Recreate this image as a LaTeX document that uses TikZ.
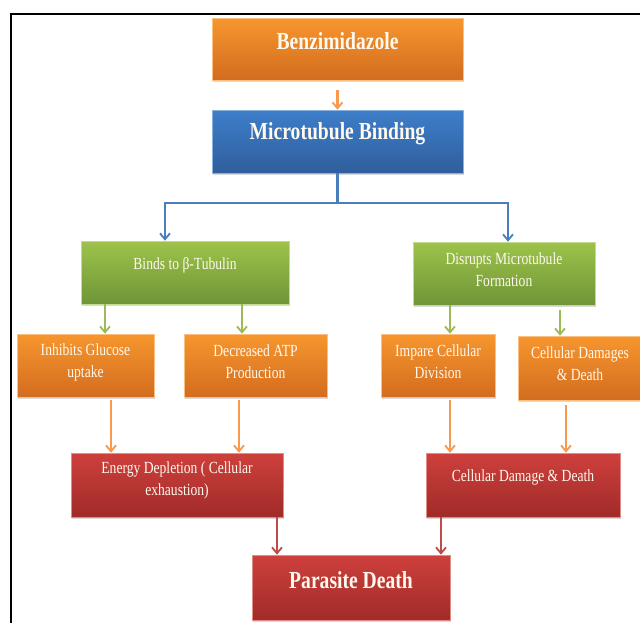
\documentclass[tikz,border=0pt]{standalone}
\usepackage{fontspec}
\setmainfont[FakeStretch=0.8]{Liberation Serif}
\usetikzlibrary{arrows.meta,shadows}
\definecolor{oTop}{HTML}{F7962E}
\definecolor{oBot}{HTML}{D36C1F}
\definecolor{bTop}{HTML}{3E7ECA}
\definecolor{bBot}{HTML}{2F5E9D}
\definecolor{gTop}{HTML}{9DC34B}
\definecolor{gBot}{HTML}{6F9538}
\definecolor{rTop}{HTML}{CE403C}
\definecolor{rBot}{HTML}{A02B29}
\definecolor{aO}{HTML}{F79A4E}
\definecolor{aB}{HTML}{4A7DBB}
\definecolor{aG}{HTML}{9BBB59}
\definecolor{aR}{HTML}{BE4B48}
\definecolor{txtc}{HTML}{FFF9EE}
\begin{document}
\begin{tikzpicture}[x=1pt,y=-1pt,
  box/.style={rectangle, inner sep=0pt, line width=0.6pt,
    drop shadow={shadow xshift=1pt,shadow yshift=-1.5pt,opacity=0.3}},
  obox/.style={box, top color=oTop, bottom color=oBot, draw=oTop!60!white},
  bbox/.style={box, top color=bTop, bottom color=bBot, draw=bTop!60!white},
  gbox/.style={box, top color=gTop, bottom color=gBot, draw=gTop!60!white},
  rbox/.style={box, top color=rTop, bottom color=rBot, draw=rTop!60!white},
  ttl/.style={text=txtc, font=\bfseries\fontsize{24.5}{28}\selectfont, align=center, inner sep=0pt},
  rtx/.style={text=txtc, font=\fontsize{17}{22}\selectfont, align=center, inner sep=0pt},
  arr/.style={line width=2.1pt, -{Straight Barb[length=6pt,width=10pt,line width=1.8pt]}}
]
\useasboundingbox (0,0) rectangle (640,622);
\clip (0,0) rectangle (640,622);
\fill[white] (0,0) rectangle (640,622);
\draw[line width=2pt] (11,640) -- (11,14) -- (660,14);

% boxes
\node[obox, minimum width=251pt, minimum height=62pt,
  label={[ttl,yshift=8pt]center:Benzimidazole}] (bz) at (337.5,49) {};
\node[bbox, minimum width=251pt, minimum height=63pt,
  label={[ttl,yshift=7.5pt]center:Microtubule Binding}] (mb) at (337.5,141.5) {};
\node[gbox, minimum width=208pt, minimum height=63pt,
  label={[rtx,yshift=7pt]center:Binds to β-Tubulin}] (bt) at (185,272.5) {};
\node[gbox, minimum width=182pt, minimum height=63pt,
  label={[rtx,yshift=4pt]center:Disrupts Microtubule\\Formation}] (dm) at (504,273.5) {};
\node[obox, minimum width=137pt, minimum height=63pt,
  label={[rtx,yshift=3.5pt]center:Inhibits Glucose\\uptake}] (ig) at (85.5,365.5) {};
\node[obox, minimum width=143pt, minimum height=63pt,
  label={[rtx,yshift=3.5pt]center:Decreased ATP\\Production}] (da) at (255.5,365.5) {};
\node[obox, minimum width=114pt, minimum height=63pt,
  label={[rtx,yshift=3.5pt]center:Impare Cellular\\Division}] (ic) at (438,365.5) {};
\node[obox, minimum width=124pt, minimum height=64pt,
  label={[rtx,yshift=4.5pt]center:Cellular Damages\\\& Death}] (cd) at (580,368) {};
\node[rbox, minimum width=212pt, minimum height=64pt,
  label={[rtx,yshift=4.5pt]center:Energy Depletion ( Cellular\\exhaustion)}] (ed) at (177,485) {};
\node[rbox, minimum width=194pt, minimum height=64pt,
  label={[rtx,yshift=8pt]center:Cellular Damage \& Death}] (cdd) at (523,485) {};
\node[rbox, minimum width=198pt, minimum height=65pt,
  label={[ttl,yshift=7.5pt]center:Parasite Death}] (pd) at (351,587.5) {};

% connectors
\draw[arr, aO] ([yshift=-10pt]bz.south) -- (mb.north);
\draw[arr, aB] (mb.south) -- ++(0,30) -| ([xshift=-20pt]bt.north);
\draw[arr, aB] (mb.south) -- ++(0,30) -| ([xshift=4pt]dm.north);

\draw[arr, aG] ([xshift=19.5pt]ig.north |- bt.south) -- ([xshift=19.5pt]ig.north);
\draw[arr, aG] ([xshift=-13.5pt]da.north |- bt.south) -- ([xshift=-13.5pt]da.north);
\draw[arr, aG] ([xshift=12pt]ic.north |- dm.south) -- ([xshift=12pt]ic.north);
\draw[arr, aG] ([xshift=-20pt,yshift=-5pt]cd.north |- dm.south) -- ([xshift=-20pt]cd.north);

\draw[arr, aO] ([xshift=25.5pt,yshift=-3pt]ig.south) -- ([xshift=25.5pt]ig.south |- ed.north);
\draw[arr, aO] ([xshift=-16.5pt,yshift=-3pt]da.south) -- ([xshift=-16.5pt]da.south |- ed.north);
\draw[arr, aO] ([xshift=12pt,yshift=-3pt]ic.south) -- ([xshift=12pt]ic.south |- cdd.north);
\draw[arr, aO] ([xshift=-14pt,yshift=-5pt]cd.south) -- ([xshift=-14pt]cd.south |- cdd.north);

\draw[arr, aR] ([xshift=100pt]ed.south) -- ([xshift=100pt]ed.south |- pd.north);
\draw[arr, aR] ([xshift=-82pt]cdd.south) -- ([xshift=-82pt]cdd.south |- pd.north);
\end{tikzpicture}
\end{document}
